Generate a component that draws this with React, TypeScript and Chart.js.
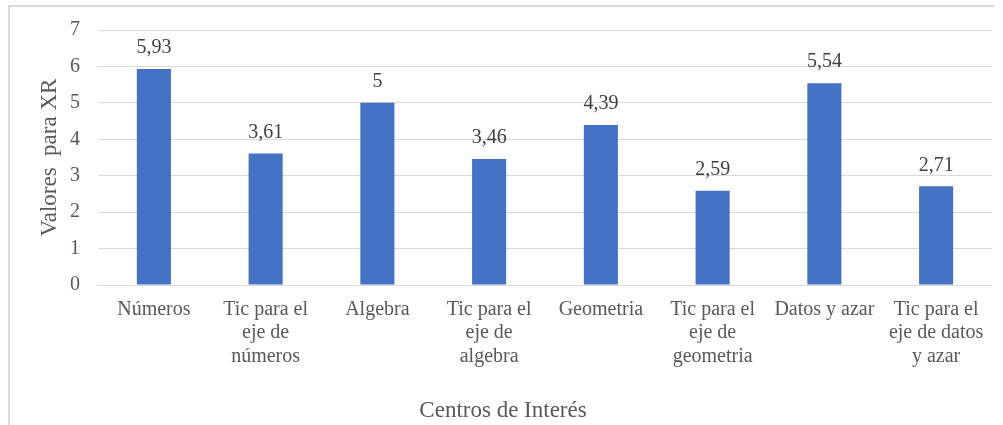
import React, { useEffect, useRef } from "react";
import { Chart, registerables } from "chart.js";

Chart.register(...registerables);

const categories: string[][] = [
  ["Números"],
  ["Tic para el", "eje de", "números"],
  ["Algebra"],
  ["Tic para el", "eje de", "algebra"],
  ["Geometria"],
  ["Tic para el", "eje de", "geometria"],
  ["Datos y azar"],
  ["Tic para el", "eje de datos", "y azar"],
];
const values: number[] = [5.93, 3.61, 5, 3.46, 4.39, 2.59, 5.54, 2.71];
const yTicks: number[] = [0, 1, 2, 3, 4, 5, 6, 7];
const yTitle = "Valores  para XR";
const xTitle = "Centros de Interés";

const FONT = "'Liberation Serif', 'Times New Roman', serif";

const formatValue = (v: number) => {
  const s = Number.isInteger(v) ? String(v) : v.toFixed(2);
  return s.replace(".", ",");
};

const labelsPlugin = {
  id: "customLabels",
  afterDatasetsDraw(chart: any) {
    const { ctx, chartArea } = chart;
    const meta = chart.getDatasetMeta(0);
    ctx.save();
    ctx.fillStyle = "#404040";
    ctx.font = `20px ${FONT}`;
    ctx.textAlign = "center";
    ctx.textBaseline = "middle";
    meta.data.forEach((bar: any, i: number) => {
      ctx.fillText(formatValue(values[i]), bar.x, bar.y - 21);
    });
    // axis titles
    ctx.fillStyle = "#595959";
    ctx.font = `23px ${FONT}`;
    ctx.fillText(xTitle, 503, 411);
    ctx.translate(50, (chartArea.top + chartArea.bottom) / 2);
    ctx.rotate(-Math.PI / 2);
    ctx.fillText(yTitle, 0, 0);
    ctx.restore();
  },
};

export default function App() {
  const ref = useRef<HTMLCanvasElement>(null);
  useEffect(() => {
    if (!ref.current) return;
    const chart = new Chart(ref.current, {
      type: "bar",
      data: {
        labels: categories,
        datasets: [
          {
            data: values,
            backgroundColor: "#4472C4",
            barPercentage: 0.305,
            categoryPercentage: 1,
          },
        ],
      },
      options: {
        animation: false,
        responsive: true,
        maintainAspectRatio: false,
        layout: { padding: { left: 0, right: 11, top: 30, bottom: 0 } },
        plugins: {
          legend: { display: false },
          tooltip: { enabled: false },
        },
        scales: {
          x: {
            grid: { display: false, drawTicks: false },
            border: { display: false },
            ticks: {
              color: "#595959",
              font: { family: FONT, size: 20, lineHeight: 1.17 },
              padding: 13,
              maxRotation: 0,
              autoSkip: false,
            },
            afterFit: (s: any) => {
              s.height = 140;
            },
          },
          y: {
            min: 0,
            max: 7,
            afterBuildTicks: (s: any) => {
              s.ticks = yTicks.map((v) => ({ value: v }));
            },
            grid: { color: "#d9d9d9", lineWidth: 1, drawTicks: false },
            border: { display: false },
            ticks: {
              color: "#595959",
              font: { family: FONT, size: 20 },
              padding: 18,
            },
            afterFit: (s: any) => {
              s.width = 98;
            },
          },
        },
      },
      plugins: [labelsPlugin],
    });
    return () => chart.destroy();
  }, []);

  return (
    <div
      style={{
        position: "absolute",
        left: 0,
        top: 0,
        width: 1003,
        height: 425,
        background: "#fff",
        overflow: "hidden",
      }}
    >
      <div
        style={{
          position: "absolute",
          left: 8,
          top: 5,
          width: 986,
          height: 440,
          borderTop: "2px solid #d9d9d9",
          borderLeft: "2px solid #d9d9d9",
          boxSizing: "border-box",
        }}
      />
      <canvas ref={ref} style={{ position: "absolute", left: 0, top: 0, width: 1003, height: 425 }} />
    </div>
  );
}
